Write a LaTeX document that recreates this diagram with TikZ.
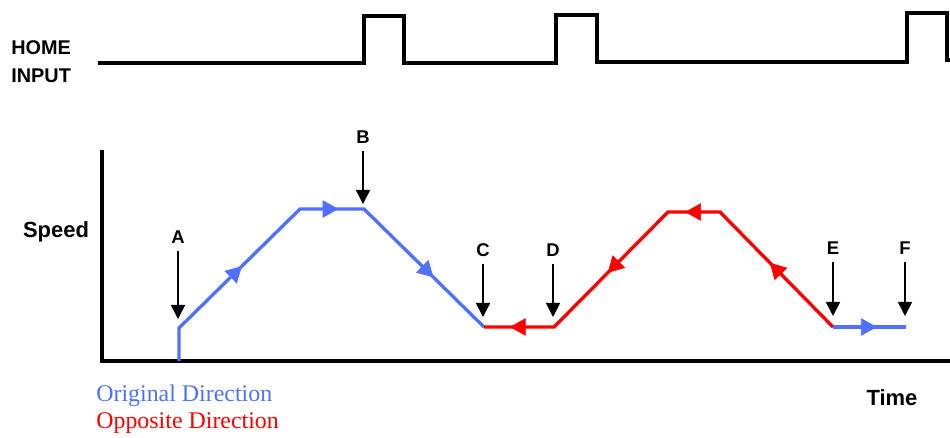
\documentclass[tikz,border=0pt]{standalone}
\usepackage{fontspec}
\setmainfont{Liberation Sans}
\newfontfamily\legendfont{Liberation Serif}
\usetikzlibrary{arrows.meta,decorations.markings}
\definecolor{origblue}{RGB}{80,112,255}
\definecolor{oppred}{RGB}{255,0,0}
\begin{document}
\begin{tikzpicture}[x=0.02cm,y=-0.02cm,
  signal/.style={line width=2pt, line join=miter},
  axisline/.style={line width=2pt, line join=miter},
  bluepath/.style={draw=origblue, line width=1.9pt, line join=miter},
  redpath/.style={draw=oppred, line width=1.9pt, line join=miter},
  marker/.style={line width=0.9pt, -{Triangle[length=8pt,width=8pt]}},
  letter/.style={font=\bfseries\fontsize{10.5}{12}\selectfont, inner sep=0pt, outer sep=4.5pt},
  biglabel/.style={font=\bfseries\fontsize{12.5}{15}\selectfont, inner sep=0pt},
  homelabel/.style={font=\bfseries\fontsize{11.3}{16}\selectfont, inner sep=0pt, align=left},
  legend/.style={font=\legendfont\fontsize{13.6}{15}\selectfont, inner sep=0pt, anchor=west},
  dirarrow/.style 2 args={decoration={markings, mark=at position #1 with {\arrow[#2]{Triangle[length=9pt,width=10pt]}}}, decorate}
]
\useasboundingbox (0,0) rectangle (950,437);

% HOME INPUT signal
\node[homelabel, anchor=west] (home) at (11,62) {HOME\\INPUT};
\coordinate (s0) at (98,63);
\draw[signal] (s0) -- (364,63) -- (364,16) -- (404,16) -- (404,63) -- (556,63)
  -- (556,15) -- (597,15) -- (597,62) -- (907,62) -- (907,13) -- (947,13) -- (947,60) -- (950,60);

% axes
\coordinate (ytop) at (102,150);
\coordinate (O) at (102,361);
\coordinate (xend) at (950,361);
\draw[axisline] (ytop) -- (O) -- (xend);
\node[biglabel] (speed) at (56,232) {Speed};
\node[biglabel] (time) at (892,398) {Time};

% speed profile
\coordinate (b0) at (179,361);
\coordinate (b1) at (179,328);
\coordinate (b2) at (300,209);
\coordinate (b3) at (364,209);
\coordinate (c) at (484,327);
\coordinate (d) at (554,327);
\coordinate (r1) at (668,212);
\coordinate (r2) at (720,212);
\coordinate (e) at (833,327);
\coordinate (f) at (906,327);

\draw[bluepath] (b0) -- (b1) -- (b2) -- (b3) -- (c);
\draw[redpath] (c) -- (d) -- (r1) -- (r2) -- (e);
\draw[bluepath] (e) -- (f);

% direction arrowheads
\path[dirarrow={0.52}{origblue}] (b1) -- (b2);
\path[dirarrow={0.6}{origblue}] (b2) -- (b3);
\path[dirarrow={0.58}{origblue}] (b3) -- (c);
\path[dirarrow={0.63}{oppred}] (d) -- (c);
\path[dirarrow={0.53}{oppred}] (r1) -- (d);
\path[dirarrow={0.67}{oppred}] (r2) -- (r1);
\path[dirarrow={0.56}{oppred}] (e) -- (r2);
\path[dirarrow={0.6}{origblue}] (e) -- (f);

% event markers
\node[letter] (lA) at (178,237) {A};
\coordinate (tA) at (178,319);
\node[letter] (lB) at (363,137) {B};
\coordinate (tB) at (363,204);
\node[letter] (lC) at (483,250) {C};
\coordinate (tC) at (483,317);
\node[letter] (lD) at (553,250) {D};
\coordinate (tD) at (553,317);
\node[letter] (lE) at (833,248) {E};
\coordinate (tE) at (833,316);
\node[letter] (lF) at (905,248) {F};
\coordinate (tF) at (905,316);
\foreach \k in {A,B,C,D,E,F}{
  \draw[marker] (l\k) -- (t\k);
}

% legend
\node[legend, text=origblue] (leg1) at (96,396) {Original Direction};
\node[legend, text=oppred] (leg2) at (96,423) {Opposite Direction};
\end{tikzpicture}
\end{document}
